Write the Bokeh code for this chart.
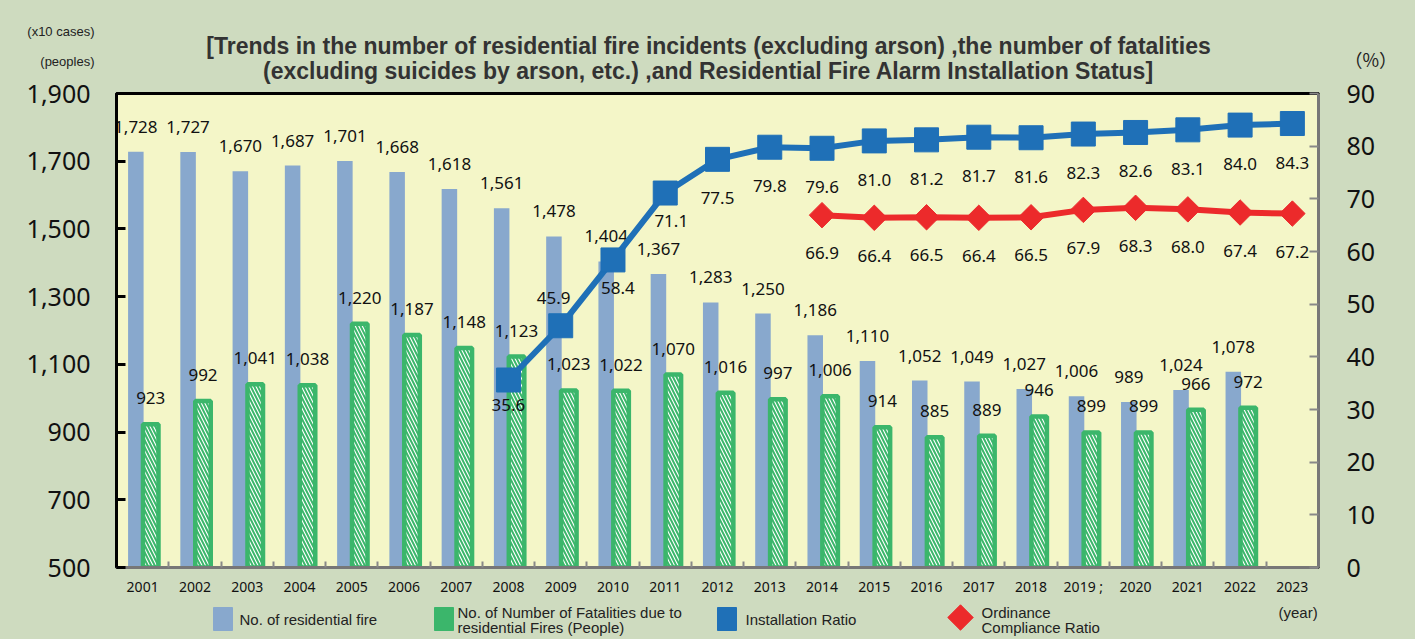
from bokeh.plotting import figure
from bokeh.layouts import column
from bokeh.models import (Range1d, LinearAxis, FixedTicker, NumeralTickFormatter,
                          ColumnDataSource)
from bokeh.core.properties import value
from bokeh.embed import file_html
from bokeh.resources import INLINE
import math

# ---------------- data ----------------
years = ["2001", "2002", "2003", "2004", "2005", "2006", "2007", "2008", "2009", "2010",
         "2011", "2012", "2013", "2014", "2015", "2016", "2017", "2018", "2019", "2020",
         "2021", "2022", "2023"]
year_labels = ["2001", "2002", "2003", "2004", "2005", "2006", "2007", "2008", "2009", "2010",
               "2011", "2012", "2013", "2014", "2015", "2016", "2017", "2018", "2019 ;", "2020",
               "2021", "2022", "2023"]
fires = [1728, 1727, 1670, 1687, 1701, 1668, 1618, 1561, 1478, 1404, 1367, 1283, 1250,
         1186, 1110, 1052, 1049, 1027, 1006, 989, 1024, 1078, None]
fatalities = [923, 992, 1041, 1038, 1220, 1187, 1148, 1123, 1023, 1022, 1070, 1016, 997,
              1006, 914, 885, 889, 946, 899, 899, 966, 972, None]
install_years = ["2008", "2009", "2010", "2011", "2012", "2013", "2014", "2015", "2016",
                 "2017", "2018", "2019", "2020", "2021", "2022", "2023"]
install_ratio = [35.6, 45.9, 58.4, 71.1, 77.5, 79.8, 79.6, 81.0, 81.2, 81.7, 81.6, 82.3,
                 82.6, 83.1, 84.0, 84.3]
comp_years = ["2014", "2015", "2016", "2017", "2018", "2019", "2020", "2021", "2022", "2023"]
comp_ratio = [66.9, 66.4, 66.5, 66.4, 66.5, 67.9, 68.3, 68.0, 67.4, 67.2]
left_ticks = [500, 700, 900, 1100, 1300, 1500, 1700, 1900]
right_ticks = [0, 10, 20, 30, 40, 50, 60, 70, 80, 90]
series_names = ["No. of residential fire",
                "No. of Number of Fatalities due to\nresidential Fires (People)",
                "Installation Ratio",
                "Ordinance\nCompliance  Ratio"]
title_lines = ["[Trends in the number of residential fire incidents (excluding arson) ,the number of fatalities",
               "(excluding suicides by arson, etc.) ,and Residential Fire Alarm Installation Status]"]
left_units = ["(x10 cases)", "(peoples)"]
right_unit = "（%）"
x_unit = "(year)"

# ---------------- styles ----------------
W, H = 1415, 639
OUTER = "#cedbbf"
INNER = "#f4f6c8"
BLUE_BAR = "#88a8cd"
GREEN = "#3bb66b"
LINE_BLUE = "#1f70b7"
RED = "#ec2a2b"
TXT = "#111111"
NUM_FONT = value("Noto Sans")
SANS = value("Liberation Sans")

TOP_H, OVERLAP = 86, 14      # main chart canvas starts at TOP_H - OVERLAP (transparent border)
MAIN_Y0 = TOP_H - OVERLAP
BOT_Y0 = 598
MAIN_H = BOT_Y0 - MAIN_Y0
BOT_H = H - BOT_Y0
FL, FR = 116, 1318          # frame left/right (page px)
FT, FB = 93, 567            # frame top/bottom (page px)

xpos = {y: i + 1 for i, y in enumerate(years)}
BLUE_OFF = -0.13
GREEN_OFF = 0.155
BAR_W = 0.297


def deco_fig(y0, h, **kw):
    # ranges expressed in page pixels; frame aligned with the main chart frame
    f = figure(width=W, height=h, x_range=Range1d(FL, FR), y_range=Range1d(y0 + h, y0),
               output_backend="svg", toolbar_location=None, x_axis_location=None,
               y_axis_location=None, min_border_left=FL, min_border_right=W - FR,
               min_border_top=0, min_border_bottom=0, background_fill_alpha=0,
               border_fill_alpha=0, **kw)
    f.outline_line_color = None
    f.xgrid.visible = False
    f.ygrid.visible = False
    return f


def label_axis(fig, side, ticks, labels, font, size, standoff):
    ax = LinearAxis(ticker=FixedTicker(ticks=ticks))
    ax.major_label_overrides = dict(zip(ticks, labels))
    ax.axis_line_color = None
    ax.major_tick_line_color = None
    ax.minor_tick_line_color = None
    ax.major_label_text_font = font
    ax.major_label_text_font_size = size
    ax.major_label_text_color = "#222222"
    ax.major_label_standoff = standoff
    fig.add_layout(ax, side)


# ---------------- top strip: title and units ----------------
top = deco_fig(0, TOP_H)
top.text(x=[708, 708], y=[45, 70], text=title_lines, text_align="center",
         text_baseline="middle", text_font=SANS, text_font_style="bold",
         text_font_size="23px", text_color="#333333")
label_axis(top, "left", [31, 61], left_units, "Liberation Sans", "13px", 16)
label_axis(top, "right", [58], [right_unit], "Noto Sans CJK JP", "18px", 20)

# ---------------- main chart ----------------
p = figure(width=W, height=MAIN_H, x_range=Range1d(0.5, len(years) + 0.5),
           y_range=Range1d(500, 1900), output_backend="svg", toolbar_location=None,
           min_border_left=FL, min_border_right=W - FR, min_border_top=FT - MAIN_Y0,
           min_border_bottom=BOT_Y0 - FB,
           background_fill_color=INNER, border_fill_alpha=0,
           styles={"margin-top": f"-{OVERLAP}px"})
p.outline_line_color = "black"
p.outline_line_width = 3
p.xgrid.visible = False
p.ygrid.visible = False
p.extra_y_ranges = {"pct": Range1d(0, 90)}
p.xaxis.visible = False
p.yaxis.visible = False

bottom = LinearAxis(ticker=FixedTicker(ticks=[xpos[y] for y in years],
                                       minor_ticks=[i + 0.5 for i in range(len(years) + 1)]))
bottom.major_label_overrides = {xpos[y]: lab for y, lab in zip(years, year_labels)}
bottom.major_tick_in = 0
bottom.major_tick_out = 0
bottom.minor_tick_in = 6
bottom.minor_tick_out = 0
bottom.minor_tick_line_color = "#888888"
bottom.minor_tick_line_width = 2
bottom.axis_line_color = "#777777"
bottom.axis_line_width = 3
bottom.major_label_text_font = "Noto Sans"
bottom.major_label_text_font_size = "14px"
bottom.major_label_text_color = TXT
bottom.major_label_standoff = 9
p.add_layout(bottom, "below")

left = LinearAxis(ticker=FixedTicker(ticks=left_ticks), formatter=NumeralTickFormatter(format="0,0"))
left.axis_line_color = "black"
left.axis_line_width = 3
left.major_tick_in = 9
left.major_tick_out = 0
left.major_tick_line_width = 3
left.major_tick_line_color = "black"
left.minor_tick_line_color = None
left.major_label_text_font = "Noto Sans"
left.major_label_text_font_size = "25px"
left.major_label_text_color = TXT
left.major_label_standoff = 26
p.add_layout(left, "left")

right = LinearAxis(y_range_name="pct", ticker=FixedTicker(ticks=right_ticks))
right.axis_line_color = "#777777"
right.axis_line_width = 3
right.major_tick_in = 9
right.major_tick_out = 0
right.major_tick_line_width = 2
right.major_tick_line_color = "#888888"
right.minor_tick_line_color = None
right.major_label_text_font = "Noto Sans"
right.major_label_text_font_size = "25px"
right.major_label_text_color = TXT
right.major_label_standoff = 28
p.add_layout(right, "right")

fire_src = ColumnDataSource(dict(
    x=[xpos[y] + BLUE_OFF for y, v in zip(years, fires) if v is not None],
    v=[v for v in fires if v is not None],
    t=[f"{v:,}" for v in fires if v is not None]))
fat_src = ColumnDataSource(dict(
    x=[xpos[y] + GREEN_OFF for y, v in zip(years, fatalities) if v is not None],
    v=[v for v in fatalities if v is not None],
    t=[f"{v:,}" for v in fatalities if v is not None]))

p.vbar(x="x", top="v", bottom=500, width=BAR_W, source=fire_src,
       fill_color=BLUE_BAR, line_color=None)
p.vbar(x="x", top="v", bottom=500, width=BAR_W, source=fat_src,
       fill_color="white", line_color=GREEN, line_width=4.5,
       hatch_pattern="left_diagonal_line", hatch_color=GREEN, hatch_scale=7, hatch_weight=2)

p.text(x="x", y="v", text="t", source=fire_src, text_align="center", text_baseline="middle",
       y_offset=-25, text_font=NUM_FONT, text_font_size="17px", text_color=TXT)
p.text(x="x", y="v", text="t", source=fat_src, text_align="center", text_baseline="middle",
       y_offset=-26, text_font=NUM_FONT, text_font_size="17px", text_color=TXT)

inst_src = ColumnDataSource(dict(x=[xpos[y] for y in install_years], v=install_ratio,
                                 t=[f"{v:.1f}" for v in install_ratio]))
p.line(x="x", y="v", source=inst_src, y_range_name="pct", line_color=LINE_BLUE, line_width=6)
p.scatter(x="x", y="v", source=inst_src, y_range_name="pct", marker="square", size=24,
          fill_color=LINE_BLUE, line_color=LINE_BLUE)

special = {"2008": (0, 25), "2009": (-7, -28), "2010": (5, 28), "2011": (6, 28)}
inst_lab = ColumnDataSource(dict(
    x=inst_src.data["x"], v=install_ratio, t=inst_src.data["t"],
    dx=[special.get(y, (0, 39))[0] for y in install_years],
    dy=[special.get(y, (0, 39))[1] for y in install_years]))
p.text(x="x", y="v", text="t", source=inst_lab, y_range_name="pct", x_offset="dx", y_offset="dy",
       text_align="center", text_baseline="middle", text_font=NUM_FONT,
       text_font_size="17px", text_color=TXT)

comp_src = ColumnDataSource(dict(x=[xpos[y] for y in comp_years], v=comp_ratio,
                                 t=[f"{v:.1f}" for v in comp_ratio]))
p.line(x="x", y="v", source=comp_src, y_range_name="pct", line_color=RED, line_width=6)
p.scatter(x="x", y="v", source=comp_src, y_range_name="pct", marker="square",
          angle=math.pi / 4, size=18, fill_color=RED, line_color=RED)
p.text(x="x", y="v", text="t", source=comp_src, y_range_name="pct", y_offset=38,
       text_align="center", text_baseline="middle", text_font=NUM_FONT,
       text_font_size="17px", text_color=TXT)

# ---------------- bottom strip: legend ----------------
bot = deco_fig(BOT_Y0, BOT_H)
bot.quad(left=[213, 434, 717], right=[232, 453, 736], top=[607, 607, 607],
         bottom=[630, 630, 630], fill_color=[BLUE_BAR, GREEN, LINE_BLUE],
         line_color=[BLUE_BAR, GREEN, LINE_BLUE], line_width=1)
bot.scatter(x=[960], y=[617], marker="square", angle=math.pi / 4, size=18,
            fill_color=RED, line_color=RED)
n1, n2, n3, n4 = series_names
bot.text(x=[239, 457, 457, 745, 981, 981, 1278],
         y=[619, 612, 627, 619, 612, 627, 612],
         text=[n1] + n2.split("\n") + [n3] + n4.split("\n") + [x_unit],
         text_align="left", text_baseline="middle", text_font=SANS,
         text_font_size="15px", text_color="#222222")

layout = column(top, p, bot, spacing=0, styles={"background-color": OUTER})
open("out.html", "w").write(file_html(layout, INLINE))
